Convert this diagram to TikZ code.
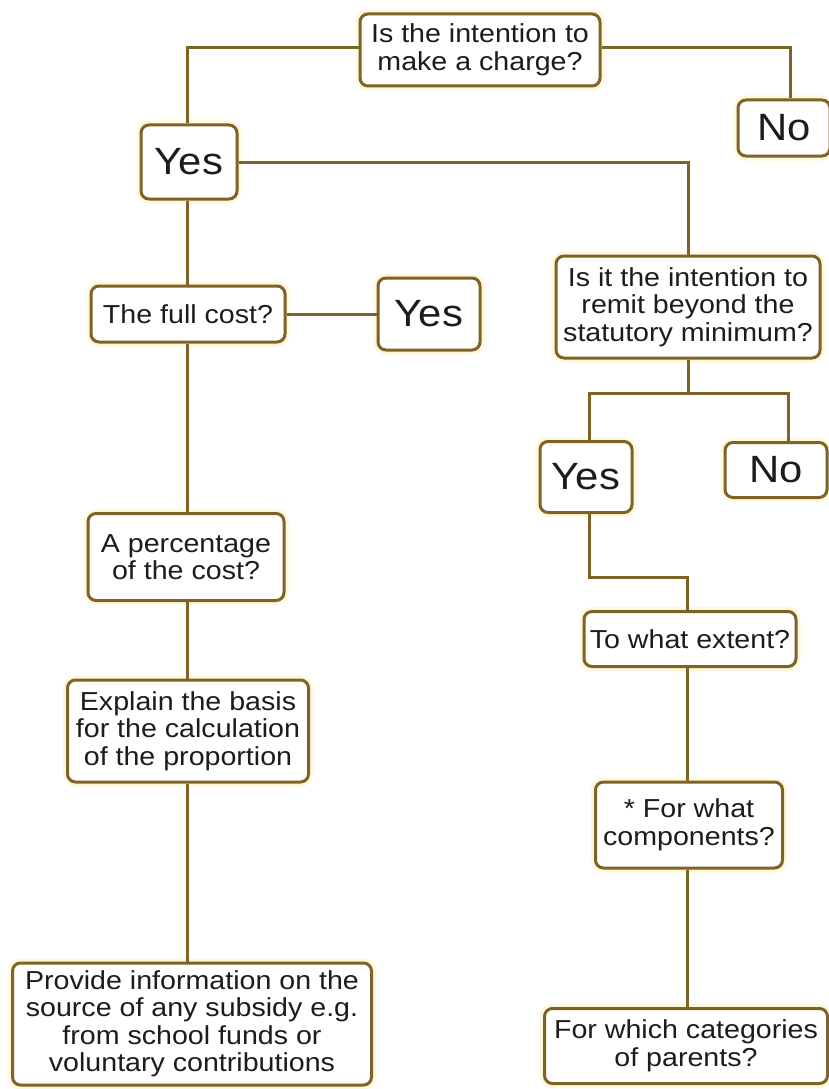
\documentclass[tikz,border=0pt]{standalone}
\usepackage{fontspec}
\setmainfont{Liberation Sans}[FakeStretch=1.1]
\definecolor{ln}{HTML}{7E6226}
\definecolor{tx}{HTML}{1C1C1C}
\definecolor{glow}{HTML}{FFF8DC}
\begin{document}
\begin{tikzpicture}[x=1pt,y=-1pt,
  box/.style={draw=ln, line width=3pt, rounded corners=8pt, fill=white, text=tx,
    align=center, inner sep=0pt, font=\fontsize{26}{27.5}\selectfont,
    preaction={draw=glow, line width=9pt}},
  big/.style={box, font=\fontsize{38}{40}\selectfont},
  wire/.style={draw=ln, line width=3pt}]
\fill[white] (0,0) rectangle (829,1089);
\useasboundingbox (0,0) rectangle (829,1089);

\node[box, minimum width=240, minimum height=72] (q1) at (480,50) {Is the intention to\\make a charge?};
\node[big, minimum width=92, minimum height=56] (noA) at (784,128) {No};
\node[big, minimum width=96, minimum height=74] (yesA) at (189,162) {Yes};
\node[box, minimum width=264, minimum height=102] (q2) at (688,307) {Is it the intention to\\remit beyond the\\statutory minimum?};
\node[box, minimum width=194, minimum height=56] (full) at (188,314) {The full cost?};
\node[big, minimum width=102, minimum height=72] (yesB) at (429,314) {Yes};
\node[big, minimum width=92, minimum height=71] (yesC) at (586,477) {Yes};
\node[big, minimum width=102, minimum height=55] (noC) at (776,470) {No};
\node[box, minimum width=196, minimum height=87] (pct) at (186,557) {A percentage\\of the cost?};
\node[box, minimum width=212, minimum height=55] (ext) at (690,639) {To what extent?};
\node[box, minimum width=241, minimum height=102] (expl) at (188,731) {Explain the basis\\for the calculation\\of the proportion};
\node[box, minimum width=187, minimum height=86] (comp) at (689,825) {* For what\\components?};
\node[box, minimum width=359, minimum height=122] (prov) at (192,1024) {Provide information on the\\source of any subsidy e.g.\\from school funds or\\voluntary contributions};
\node[box, minimum width=283, minimum height=75] (cats) at (686,1046) {For which categories\\of parents?};

\coordinate (lc) at (187,0);
\coordinate (sp) at (688,393);
\coordinate (bc) at (687,577);

\draw[wire] ([yshift=2pt]q1.west) -| (lc |- yesA.north);
\draw[wire] ([yshift=2pt]q1.east) -| ([xshift=6pt]noA.north);
\draw[wire] (yesA.east) -| (q2.north);
\draw[wire] (lc |- yesA.south) -- (lc |- full.north);
\draw[wire] (full.east) -- (yesB.west);
\draw[wire] (lc |- full.south) -- (lc |- pct.north);
\draw[wire] (lc |- pct.south) -- (lc |- expl.north);
\draw[wire] (lc |- expl.south) -- (lc |- prov.north);
\draw[wire] (q2.south) -- (sp);
\draw[wire] ([xshift=3pt]yesC.north) |- (sp) -| ([xshift=12pt]noC.north);
\draw[wire] ([xshift=3pt]yesC.south) |- (bc) -- (bc |- ext.north);
\draw[wire] (bc |- ext.south) -- (bc |- comp.north);
\draw[wire] (bc |- comp.south) -- (bc |- cats.north);
\end{tikzpicture}
\end{document}
